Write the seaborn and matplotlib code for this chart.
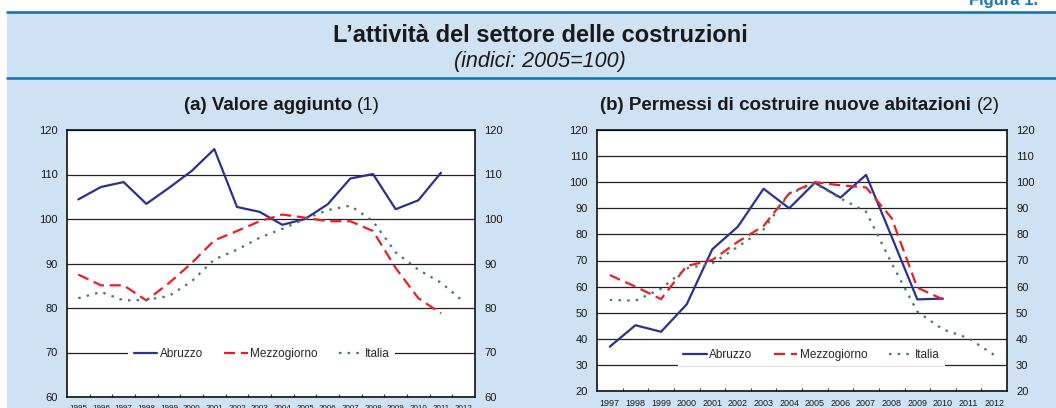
import numpy as np
import pandas as pd
import matplotlib
matplotlib.use("Agg")
import matplotlib.pyplot as plt
import seaborn as sns
from matplotlib.patches import Rectangle
from matplotlib.lines import Line2D

# dati (indici: 2005=100)
anni_a = list(range(1995, 2013))
abruzzo_a = [104.4, 107.2, 108.3, 103.4, 107.0, 110.8, 115.7, 102.7, 101.6, 98.7,
             100.0, 103.3, 109.1, 110.1, 102.2, 104.2, 110.4]
mezzogiorno_a = [87.5, 85.1, 85.1, 81.7, 85.6, 90.1, 95.2, 97.3, 99.5, 101.0,
                 100.3, 99.5, 99.5, 97.3, 89.0, 82.2, 78.8]
italia_a = [82.2, 83.6, 81.7, 81.8, 82.7, 86.0, 90.9, 93.1, 95.8, 97.8,
            100.0, 102.0, 103.0, 99.5, 92.5, 88.6, 85.7, 81.4]

anni_b = list(range(1997, 2013))
abruzzo_b = [37.0, 45.2, 42.7, 53.2, 74.3, 83.0, 97.5, 90.0, 99.8, 94.1,
             102.8, 79.1, 55.1, 55.4]
mezzogiorno_b = [64.4, 60.0, 55.2, 67.9, 70.2, 77.2, 83.2, 95.7, 100.0, 98.8,
                 98.0, 86.2, 59.6, 55.1]
italia_b = [54.9, 54.6, 59.2, 67.0, 68.9, 75.3, 81.9, 95.5, 99.6, 93.8,
            88.7, 68.9, 50.4, 43.6, 40.2, 33.8]

serie = ["Abruzzo", "Mezzogiorno", "Italia"]
colori = {"Abruzzo": "#2b3190", "Mezzogiorno": "#ee1d25", "Italia": "#3f7d58"}
stili = {"Abruzzo": "-", "Mezzogiorno": (0, (5, 2.6)), "Italia": (0, (1.1, 2.8))}

sns.set_theme(style="white")
plt.rcParams["font.family"] = ["Liberation Sans", "DejaVu Sans"]

fig = plt.figure(figsize=(10.56, 4.08), dpi=100)
fig.patch.set_facecolor("white")
H = 408.0
W = 1056.0

# sfondo azzurro e linee blu
fig.patches.append(Rectangle((7 / W, 0), 1 - 7 / W, 1 - 12.5 / H, transform=fig.transFigure,
                             facecolor="#cfe2f3", edgecolor="none", zorder=-10))
for yy in (12.0, 78.0):
    fig.lines.append(Line2D([7 / W, 1], [1 - yy / H, 1 - yy / H], transform=fig.transFigure,
                            color="#0a6fb0", lw=1.8))

fig.text(969 / W, 1 - 5 / H, "Figura 1.", color="#1a75bb", fontweight="bold",
         fontsize=12, va="baseline", ha="left")
fig.text(540 / W, 1 - 36 / H, "L\u2019attività del settore delle costruzioni",
         fontsize=17, fontweight="bold", ha="center", va="center", color="#1a1a1a")
fig.text(540 / W, 1 - 61 / H, "(indici: 2005=100)", fontsize=15.5, fontstyle="italic",
         ha="center", va="center", color="#1a1a1a")


def titolo(cx, cy, grassetto, normale, size=13.5):
    t1 = fig.text(0, cy, grassetto, fontsize=size, fontweight="bold", va="center", ha="left",
                  color="#1a1a1a")
    t2 = fig.text(0, cy, normale, fontsize=size, va="center", ha="left", color="#1a1a1a")
    r = fig.canvas.get_renderer()
    w1 = t1.get_window_extent(r).width / W
    w2 = t2.get_window_extent(r).width / W
    x0 = cx - (w1 + w2) / 2
    t1.set_x(x0)
    t2.set_x(x0 + w1)


def pannello(rect, anni, valori, ylim, leg_pos, xfont):
    ax = fig.add_axes(rect)
    ax.set_facecolor("white")
    for nome, vals in zip(serie, valori):
        sns.lineplot(x=anni[:len(vals)], y=vals, ax=ax, color=colori[nome],
                     linestyle=stili[nome], lw=1.6, label=nome, estimator=None, sort=False)
    ax.set_xlim(anni[0] - 0.5, anni[-1] + 0.5)
    ax.set_ylim(*ylim)
    ax.set_yticks(np.arange(ylim[0], ylim[1] + 1, 10))
    ax.yaxis.grid(True, color="#222222", lw=0.9)
    ax.xaxis.grid(False)
    ax.set_xticks(anni)
    ax.set_xticklabels([str(a) for a in anni], fontsize=xfont)
    ax.set_xticks(np.arange(anni[0] + 0.5, anni[-1], 1), minor=True)
    ax.tick_params(axis="x", which="major", length=0, pad=5.8, colors="#1a1a1a")
    ax.tick_params(axis="x", which="minor", direction="in", length=2.5, width=0.8,
                   bottom=True, color="#333333")
    ax.tick_params(axis="y", length=0, labelleft=True, labelright=True, labelsize=8,
                   pad=6.5, colors="#1a1a1a")
    for s in ax.spines.values():
        s.set_color("#111111")
        s.set_linewidth(1.2)
    ax.set_xlabel("")
    ax.set_ylabel("")
    leg = ax.legend(loc="center", bbox_to_anchor=leg_pos, ncol=3, frameon=True,
                    facecolor="white", edgecolor="none", framealpha=1, fancybox=False,
                    fontsize=8.5, handlelength=2.0, handletextpad=0.2, columnspacing=1.8,
                    borderpad=0.45, borderaxespad=0)
    leg.set_zorder(5)
    return ax


ax1 = pannello([67 / W, 11 / H, 408 / W, 267 / H], anni_a,
               [abruzzo_a, mezzogiorno_a, italia_a], (60, 120), (0.477, 0.161), 5.8)
ax2 = pannello([597 / W, 17 / H, 410 / W, 261 / H], anni_b,
               [abruzzo_b, mezzogiorno_b, italia_b], (20, 120), (0.523, 0.138), 6.5)

titolo(282 / W, 1 - 105 / H, "(a) Valore aggiunto ", "(1)")
titolo(800 / W, 1 - 105 / H, "(b) Permessi di costruire nuove abitazioni ", "(2)")

fig.savefig("out.png", dpi=100)
